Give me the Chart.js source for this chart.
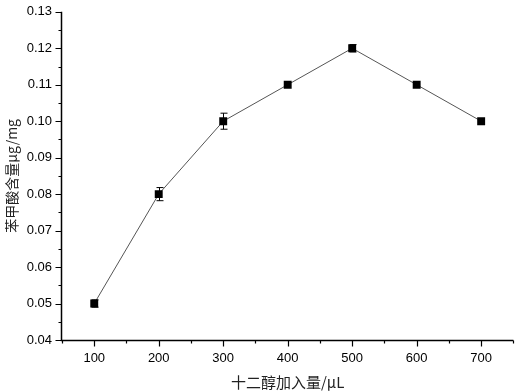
<!DOCTYPE html>
<html>
<head>
<meta charset="utf-8">
<script src="https://cdn.jsdelivr.net/npm/chart.js@4.4.0/dist/chart.umd.min.js"></script>
<style>
  html, body { margin: 0; padding: 0; background: #fff; }
  #wrap { width: 519px; height: 391px; position: relative; }
</style>
</head>
<body>
<div id="wrap"><canvas id="chart"></canvas></div>
<script>
// ==========================================
// Data
// ==========================================
const dodecanolVolume = [100, 200, 300, 400, 500, 600, 700];      // μL
const benzoicContent  = [0.05, 0.08, 0.10, 0.11, 0.12, 0.11, 0.10]; // μg/mg
const errorValues     = [0.001, 0.0018, 0.0022, 0, 0.001, 0, 0];

const xTitle = "十二醇加入量/μL";
const yTitle = "苯甲酸含量μg/mg";

const tickFont = { family: "'Liberation Sans', Arial, sans-serif", size: 13 };
const titleFont = { family: "'Noto Sans CJK SC', 'Liberation Sans', sans-serif", size: 14 };

// Axis lines, major/minor ticks and error bars drawn with the chart's scales
const axesAndErrors = {
  id: "axesAndErrors",
  afterDatasetsDraw(chart) {
    const ctx = chart.ctx;
    const xs = chart.scales.x, ys = chart.scales.y;
    const area = chart.chartArea;
    ctx.save();
    ctx.strokeStyle = "#000";
    ctx.lineWidth = 1;

    // error bars
    const meta = chart.getDatasetMeta(0);
    meta.data.forEach((pt, i) => {
      const e = errorValues[i];
      if (!e) return;
      const x = Math.round(pt.x) + 0.5;
      const yTop = ys.getPixelForValue(benzoicContent[i] + e);
      const yBot = ys.getPixelForValue(benzoicContent[i] - e);
      ctx.beginPath();
      ctx.moveTo(x, yTop); ctx.lineTo(x, yBot);
      ctx.moveTo(x - 3, yTop); ctx.lineTo(x + 4, yTop);
      ctx.moveTo(x - 3, yBot); ctx.lineTo(x + 4, yBot);
      ctx.stroke();
    });

    // axis lines
    const ax = Math.round(area.left) - 0.5;
    const ay = Math.round(area.bottom) + 0.5;
    ctx.lineWidth = 1.5;
    ctx.beginPath();
    ctx.moveTo(ax, area.top);
    ctx.lineTo(ax, ay);
    ctx.lineTo(area.right, ay);
    ctx.stroke();

    // ticks
    ctx.lineWidth = 1.2;
    ctx.beginPath();
    for (let v = 50; v <= 750.001; v += 50) {
      const px = Math.round(xs.getPixelForValue(v)) + 0.5;
      const len = Math.round(v) % 100 === 0 ? 6 : 3;
      ctx.moveTo(px, ay); ctx.lineTo(px, ay + len);
    }
    for (let k = 0; k <= 18; k++) {
      const v = 0.04 + k * 0.005;
      const py = Math.round(ys.getPixelForValue(v)) + 0.5;
      const len = k % 2 === 0 ? 6 : 3;
      ctx.moveTo(ax, py); ctx.lineTo(ax - len, py);
    }
    ctx.stroke();
    ctx.restore();
  }
};

new Chart(document.getElementById("chart"), {
  type: "line",
  data: {
    labels: dodecanolVolume,
    datasets: [{
      data: dodecanolVolume.map((x, i) => ({ x: x, y: benzoicContent[i] })),
      borderColor: "#555",
      borderWidth: 1,
      pointStyle: "rect",
      pointRadius: 5.6,
      pointBackgroundColor: "#000",
      pointBorderColor: "#000",
      pointBorderWidth: 0,
      tension: 0
    }]
  },
  options: {
    responsive: true,
    maintainAspectRatio: false,
    animation: false,
    layout: { padding: { top: 6, right: 2, left: 0, bottom: 0 } },
    plugins: {
      legend: { display: false },
      tooltip: { enabled: false }
    },
    scales: {
      x: {
        type: "linear",
        min: 50,
        max: 750,
        border: { display: false },
        grid: { drawOnChartArea: false, drawTicks: true, tickLength: 6, color: "rgba(0,0,0,0)" },
        ticks: {
          stepSize: 50,
          padding: 5,
          color: "#000",
          font: tickFont,
          maxRotation: 0,
          autoSkip: false,
          callback: v => (v % 100 === 0 ? String(v) : "")
        },
        title: {
          display: true,
          text: xTitle,
          color: "#222",
          font: { family: titleFont.family, size: 15 },
          padding: { top: 2, bottom: 0 }
        },
        afterFit: s => { s.height = 51; }
      },
      y: {
        min: 0.04,
        max: 0.13,
        border: { display: false },
        grid: { drawOnChartArea: false, drawTicks: true, tickLength: 6, color: "rgba(0,0,0,0)" },
        ticks: {
          stepSize: 0.01,
          padding: 4,
          color: "#000",
          font: tickFont,
          autoSkip: false,
          callback: v => v.toFixed(2)
        },
        title: {
          display: true,
          text: yTitle,
          color: "#222",
          font: titleFont,
          padding: { top: 3, bottom: 0 }
        },
        afterFit: s => { s.width = 62; }
      }
    }
  },
  plugins: [axesAndErrors]
});
</script>
</body>
</html>
